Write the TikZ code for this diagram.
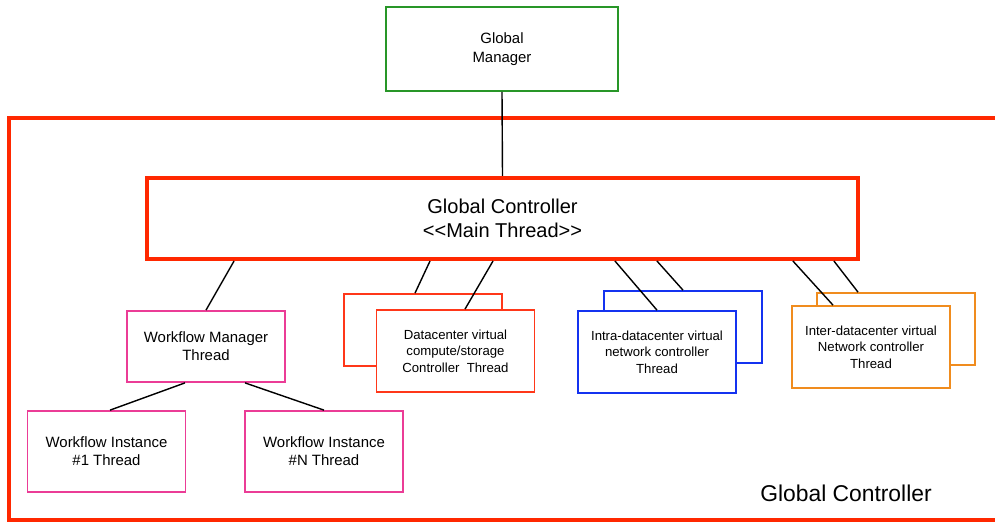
\documentclass[tikz,border=0pt]{standalone}
\usepackage{fontspec}
\setmainfont{Liberation Sans}
\usetikzlibrary{positioning}
\definecolor{cred}{RGB}{255,40,0}
\definecolor{cgreen}{RGB}{40,150,40}
\definecolor{cpink}{RGB}{235,60,150}
\definecolor{cblue}{RGB}{20,50,240}
\definecolor{corange}{RGB}{240,140,30}
\definecolor{cdcred}{RGB}{255,55,25}

\begin{document}
\begin{tikzpicture}[
    x=0.02cm, y=-0.02cm,
    frame/.style={draw=cred, line width=2.3pt},
    gmbox/.style={draw=cgreen, line width=0.9pt, fill=white, minimum width=4.64cm, minimum height=1.68cm, align=center, font=\fontsize{8.5}{10.5}\selectfont},
    gcbox/.style={draw=cred, line width=2.3pt, fill=white, minimum width=14.22cm, minimum height=1.62cm, align=center, font=\fontsize{11.4}{13.6}\selectfont},
    wfbox/.style={draw=cpink, line width=1pt, fill=white, minimum width=3.16cm, minimum height=1.62cm, align=center, font=\fontsize{8.5}{10.2}\selectfont},
    thrbox/.style={line width=1pt, fill=white, minimum width=3.16cm, minimum height=1.64cm, align=center, font=\fontsize{7.5}{9.4}\selectfont},
    backbox/.style={line width=1pt, fill=white, minimum width=3.16cm, minimum height=1.44cm},
    link/.style={draw=black, line width=0.8pt}
]
\useasboundingbox (0,0) rectangle (995,522);
% outer frame, open to the right
\draw[frame] (1010,118) -- (9,118) -- (9,520) -- (1010,520);
\node[font=\fontsize{13}{15}\selectfont] (gclabel) at (846,493) {Global Controller};

\node[gmbox] (gm) at (502,49) {Global\\Manager};
\node[gcbox] (gc) at (502.5,218.5) {Global Controller\\<{}<Main Thread>{}>};

\node[wfbox, minimum height=1.42cm] (wm) at (206,346.5) {Workflow Manager\\Thread};
\node[wfbox] (wi1) at (106.5,451.5) {Workflow Instance\\\#1 Thread};
\node[wfbox] (win) at (324,451.5) {Workflow Instance\\\#N Thread};

\node[backbox, draw=cdcred] (dcb) at (423,330) {};
\node[thrbox, draw=cdcred] (dcf) at (455.5,351) {Datacenter virtual\\compute/storage\\Controller\ \ Thread};
\node[backbox, draw=cblue] (itb) at (683,327) {};
\node[thrbox, draw=cblue] (itf) at (657,352) {Intra-datacenter virtual\\network controller\\Thread};
\node[backbox, draw=corange] (ieb) at (896,329) {};
\node[thrbox, draw=corange] (ief) at (871,347) {Inter-datacenter virtual\\Network controller\\Thread};

\draw[link] (gm.south) -- (gc.north);
\draw[link] ([xshift=-5.37cm]gc.south) -- (wm.north);
\draw[link] ([xshift=-0.42cm]wm.south) -- ([xshift=0.07cm]wi1.north);
\draw[link] ([xshift=0.78cm]wm.south) -- (win.north);
\draw[link] ([xshift=-1.45cm]gc.south) -- ([xshift=-0.16cm]dcb.north);
\draw[link] ([xshift=-0.19cm]gc.south) -- ([xshift=0.19cm]dcf.north);
\draw[link] ([xshift=2.25cm]gc.south) -- (itf.north);
\draw[link] ([xshift=3.09cm]gc.south) -- (itb.north);
\draw[link] ([xshift=5.81cm]gc.south) -- ([xshift=-0.76cm]ief.north);
\draw[link] ([xshift=6.63cm]gc.south) -- ([xshift=-0.76cm]ieb.north);
\end{tikzpicture}
\end{document}
